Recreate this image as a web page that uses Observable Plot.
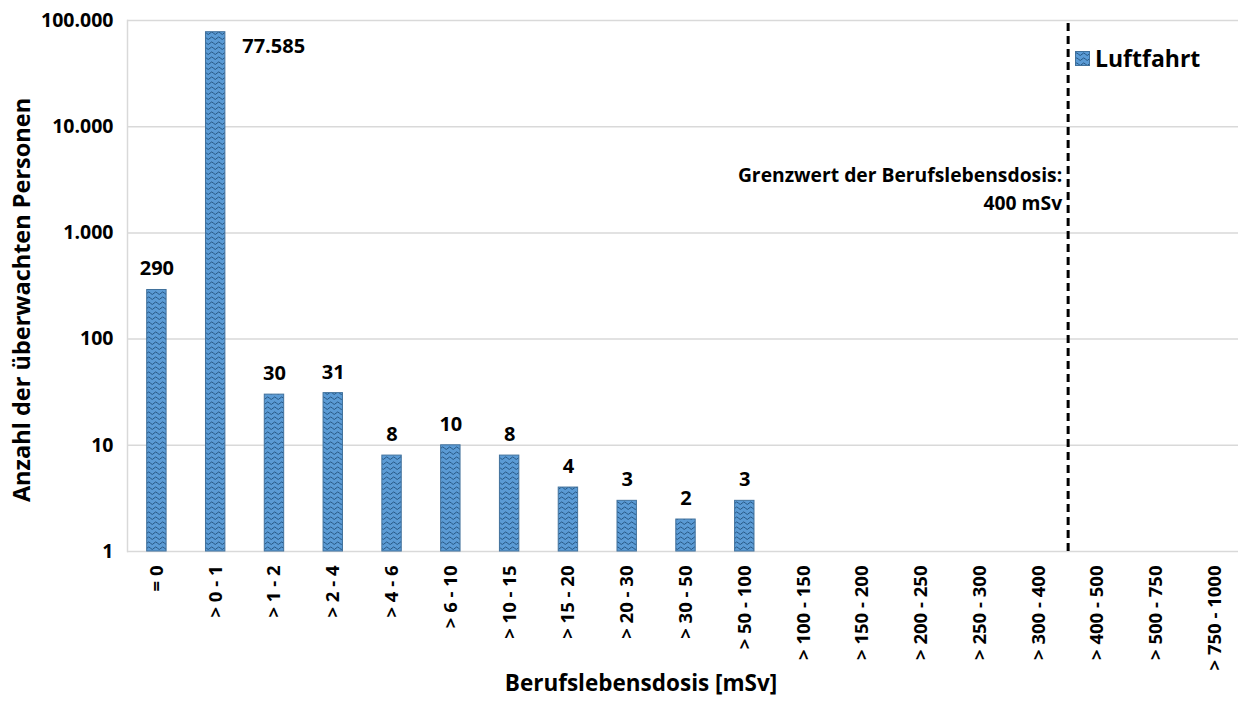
<!DOCTYPE html>
<html>
<head>
<meta charset="utf-8">
<script src="https://cdn.jsdelivr.net/npm/d3@7"></script>
<script src="https://cdn.jsdelivr.net/npm/@observablehq/plot@0.6"></script>
<style>
  html, body { margin: 0; padding: 0; background: #fff; }
  #wrap { position: relative; width: 1238px; height: 704px; font-family: "Open Sans", "Noto Sans", sans-serif; }
  #legend { position: absolute; left: 1075px; top: 42px; display: flex; align-items: center; gap: 5px;
    font-weight: bold; font-size: 23px; color: #000; }
</style>
</head>
<body>
<div id="wrap"></div>
<script>
// Data
const categories = ["= 0", "> 0 - 1", "> 1 - 2", "> 2 - 4", "> 4 - 6", "> 6 - 10", "> 10 - 15",
  "> 15 - 20", "> 20 - 30", "> 30 - 50", "> 50 - 100", "> 100 - 150", "> 150 - 200",
  "> 200 - 250", "> 250 - 300", "> 300 - 400", "> 400 - 500", "> 500 - 750", "> 750 - 1000"];
const values = [290, 77585, 30, 31, 8, 10, 8, 4, 3, 2, 3, null, null, null, null, null, null, null, null];
const yTicks = [1, 10, 100, 1000, 10000, 100000];
const seriesName = "Luftfahrt";
const limitCategory = "> 400 - 500";
const limitText = "Grenzwert der Berufslebensdosis:\n400 mSv";
const xTitle = "Berufslebensdosis [mSv]";
const yTitle = "Anzahl der überwachten Personen";

const de = d3.formatLocale({decimal: ",", thousands: ".", grouping: [3], currency: ["", " €"]});
const fmt = de.format(",d");

const data = categories.map((c, i) => ({cat: c, v: values[i]})).filter(d => d.v != null);
const normalLabels = data.filter(d => d.v < 10000);
const bigLabels = data.filter(d => d.v >= 10000);

const W = 1238, H = 704;
const mL = 127, mR = 0, mT = 20, mB = 153;
const xRange = [127, 1244];
const step = (xRange[1] - xRange[0]) / categories.length;

const font = "'Open Sans', 'Noto Sans', sans-serif";

const chart = Plot.plot({
  width: W, height: H,
  marginLeft: mL, marginRight: mR, marginTop: mT, marginBottom: mB,
  style: {fontFamily: font, background: "#fff", overflow: "visible"},
  x: {type: "band", domain: categories, range: xRange, paddingInner: 0.67, paddingOuter: 0.335, round: false, label: null},
  y: {type: "log", domain: [1, 100000], label: null},
  marks: [
    Plot.ruleY(yTicks, {stroke: "#d9d9d9", strokeWidth: 1.5}),
    Plot.frame({anchor: "left", stroke: "#d9d9d9", strokeWidth: 1.5}),
    Plot.barY(data, {x: "cat", y1: 1, y2: "v", fill: "url(#wave)", stroke: "#41719C", strokeWidth: 1}),
    Plot.text(normalLabels, {x: "cat", y: "v", text: d => fmt(d.v), dy: -21, fontSize: 20, fontWeight: "bold", fill: "#000", lineAnchor: "middle"}),
    Plot.text(bigLabels, {x: "cat", y: "v", text: d => fmt(d.v), dx: 58, dy: 14, fontSize: 20, fontWeight: "bold", fill: "#000", lineAnchor: "middle"}),
    Plot.ruleX([limitCategory], {x: d => d, dx: -step / 2, y1: 1, y2: 100000, stroke: "#000", strokeWidth: 3, strokeDasharray: "8,5"}),
    Plot.text([limitText], {x: () => limitCategory, frameAnchor: "top", dx: -step / 2 - 6, dy: 167, textAnchor: "end", lineAnchor: "middle", lineHeight: 1.45, fontSize: 19.3, fontWeight: "bold", fill: "#000"}),
    Plot.axisY({ticks: yTicks, tickFormat: fmt, tickSize: 0, tickPadding: 14, fontSize: 19.5, fontWeight: "bold", label: null}),
    Plot.axisX({tickSize: 0, tickPadding: 14, tickRotate: -90, fontSize: 18.5, fontWeight: "bold", label: null}),
    Plot.text([xTitle], {frameAnchor: "bottom", dy: 139, dx: -42, fontSize: 22.5, fontWeight: "bold", fill: "#000"}),
    Plot.text([yTitle], {frameAnchor: "left", dx: -105, dy: 14, rotate: -90, textAnchor: "middle", fontSize: 23.5, fontWeight: "bold", fill: "#000"})
  ]
});

// pattern definition
const svgNS = "http://www.w3.org/2000/svg";
const defs = document.createElementNS(svgNS, "defs");
defs.innerHTML = `
  <pattern id="wave" patternUnits="userSpaceOnUse" width="7" height="5">
    <rect width="7" height="5" fill="#5B9BD5"/>
    <path d="M0,3.2 Q1.75,0.6 3.5,3.2 T7,3.2" fill="none" stroke="#1F4E79" stroke-width="0.9"/>
  </pattern>`;
chart.insertBefore(defs, chart.firstChild);

const wrap = document.getElementById("wrap");
wrap.appendChild(chart);

const legend = document.createElement("div");
legend.id = "legend";
legend.innerHTML = `<svg width="15" height="15" style="display:block"><defs><pattern id="wave2" patternUnits="userSpaceOnUse" width="7" height="5"><rect width="7" height="5" fill="#5B9BD5"/><path d="M0,3.2 Q1.75,0.6 3.5,3.2 T7,3.2" fill="none" stroke="#1F4E79" stroke-width="0.9"/></pattern></defs><rect x="0.5" y="0.5" width="14" height="14" fill="url(#wave2)" stroke="#41719C"/></svg><span></span>`;
legend.querySelector("span").textContent = seriesName;
wrap.appendChild(legend);
</script>
</body>
</html>
